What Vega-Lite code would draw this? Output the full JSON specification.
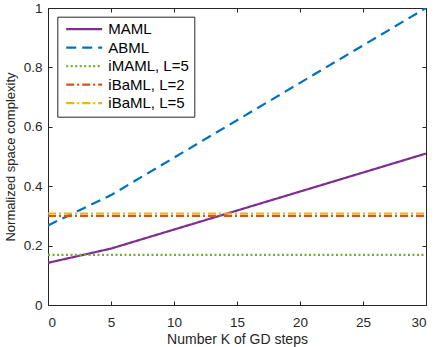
{
  "$schema": "https://vega.github.io/schema/vega-lite/v6.json",
  "autosize": "none",
  "width": 378,
  "height": 297,
  "padding": {"left": 48, "top": 8, "right": 10, "bottom": 42},
  "config": {
    "font": "Liberation Sans",
    "view": {"stroke": null},
    "axis": {
      "grid": false,
      "domainColor": "#262626",
      "tickColor": "#262626",
      "labelColor": "#262626",
      "titleColor": "#262626",
      "labelFont": "Liberation Sans",
      "titleFont": "Liberation Sans",
      "labelFontSize": 13.5,
      "titleFontSize": 14,
      "titleFontWeight": "normal",
      "tickSize": -4,
      "domainWidth": 1
    }
  },
  "data": {
    "values": [
      {"K": 0, "v": 0.142, "s": "MAML"},
      {"K": 5, "v": 0.19, "s": "MAML"},
      {"K": 10, "v": 0.254, "s": "MAML"},
      {"K": 15, "v": 0.318, "s": "MAML"},
      {"K": 20, "v": 0.382, "s": "MAML"},
      {"K": 25, "v": 0.446, "s": "MAML"},
      {"K": 30, "v": 0.51, "s": "MAML"},
      {"K": 0, "v": 0.268, "s": "ABML"},
      {"K": 5, "v": 0.37, "s": "ABML"},
      {"K": 10, "v": 0.496, "s": "ABML"},
      {"K": 15, "v": 0.622, "s": "ABML"},
      {"K": 20, "v": 0.748, "s": "ABML"},
      {"K": 25, "v": 0.874, "s": "ABML"},
      {"K": 30, "v": 1.0, "s": "ABML"},
      {"K": 0, "v": 0.169, "s": "iMAML, L=5"},
      {"K": 30, "v": 0.169, "s": "iMAML, L=5"},
      {"K": 0, "v": 0.3, "s": "iBaML, L=2"},
      {"K": 30, "v": 0.3, "s": "iBaML, L=2"},
      {"K": 0, "v": 0.308, "s": "iBaML, L=5"},
      {"K": 30, "v": 0.308, "s": "iBaML, L=5"}
    ]
  },
  "resolve": {"axis": {"x": "independent", "y": "independent"}},
  "layer": [
    {
      "mark": {"type": "line", "strokeWidth": 2.2, "clip": true},
      "encoding": {
        "x": {
          "field": "K", "type": "quantitative",
          "scale": {"domain": [0, 30], "nice": false},
          "axis": {"values": [0, 5, 10, 15, 20, 25, 30], "title": "Number K of GD steps", "labelPadding": 14, "titlePadding": 4}
        },
        "y": {
          "field": "v", "type": "quantitative",
          "scale": {"domain": [0, 1], "nice": false},
          "axis": {"values": [0, 0.2, 0.4, 0.6, 0.8, 1], "title": "Normalized space complexity", "titleFontSize": 13, "labelPadding": 10, "titlePadding": 6,
            "labelExpr": "datum.value == 0 ? '0' : datum.value == 1 ? '1' : format(datum.value, '.1f')"}
        },
        "color": {
          "field": "s", "type": "nominal",
          "scale": {
            "domain": ["MAML", "ABML", "iMAML, L=5", "iBaML, L=2", "iBaML, L=5"],
            "range": ["#7E2F8E", "#0072BD", "#77AC30", "#D95319", "#EDB120"]
          },
          "legend": {
            "title": null,
            "orient": "none",
            "legendX": 9.3,
            "legendY": 8.7,
            "symbolType": "M-1,0H9",
            "symbolSize": 51.8,
            "symbolStrokeWidth": 2.2,
            "labelFont": "Liberation Sans",
            "labelFontSize": 15,
            "labelColor": "#000000",
            "strokeColor": "#262626",
            "fillColor": "#ffffff",
            "padding": 5,
            "rowPadding": 2.5,
            "labelOffset": 31,
            "labelLimit": 200
          }
        },
        "strokeDash": {
          "field": "s", "type": "nominal",
          "scale": {
            "domain": ["MAML", "ABML", "iMAML, L=5", "iBaML, L=2", "iBaML, L=5"],
            "range": [[1, 0], [10, 6], [2, 2.5], [8, 3, 2, 3], [8, 3, 2, 3]]
          }
        },
        "order": {"field": "s"}
      }
    },
    {
      "mark": {"type": "point", "opacity": 0},
      "encoding": {
        "x": {"field": "K", "type": "quantitative", "scale": {"domain": [0, 30], "nice": false},
          "axis": {"orient": "top", "values": [0, 5, 10, 15, 20, 25, 30], "labels": false, "title": null}},
        "y": {"field": "v", "type": "quantitative", "scale": {"domain": [0, 1], "nice": false},
          "axis": {"orient": "right", "values": [0, 0.2, 0.4, 0.6, 0.8, 1], "labels": false, "title": null}}
      }
    }
  ]
}
